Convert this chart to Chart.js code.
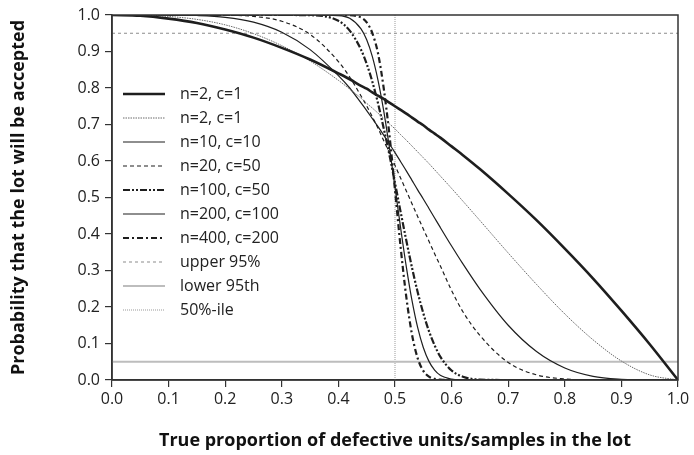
<!DOCTYPE html>
<html>
<head>
<meta charset="utf-8">
<script src="https://cdn.jsdelivr.net/npm/chart.js@4/dist/chart.umd.min.js"></script>
<style>
  body { margin: 0; background: #fff; }
  canvas { display: block; }
</style>
</head>
<body>
<canvas id="oc" width="694" height="455"></canvas>
<script>
// --- data (OC curves) ---

const pGrid = [0, .05, .1, .15, .2, .25, .3, .35, .4, .42, .44, .45, .46, .47, .48, .49, .5,
  .51, .52, .53, .54, .55, .56, .57, .58, .6, .62, .65, .7, .75, .8, .85, .9, .95, 1];

const accN2Thick = [1, .998, .99, .978, .96, .938, .91, .878, .84, .824, .806, .798, .788, .779, .77, .76, .75,
  .74, .73, .719, .708, .698, .686, .675, .664, .64, .616, .578, .51, .438, .36, .278, .19, .098, 0];

const accN2Dotted = [1, .9995, .996, .988, .973, .949, .916, .874, .821, .797, .772, .758, .745, .731, .717, .702, .688,
  .672, .657, .641, .625, .609, .593, .576, .559, .525, .49, .437, .348, .262, .181, .11, .052, .014, 0];

const accN10 = [1, 1, .9999, .9986, .9936, .9803, .9527, .9051, .8338, .8, .759, .738, .716, .694, .671, .647, .623,
  .598, .573, .547, .521, .496, .47, .444, .418, .367, .318, .249, .15, .078, .033, .01, .002, 0, 0];

const accN20 = [1, 1, 1, .9999, .9994, .9961, .9829, .9468, .8725, .83, .778, .751, .721, .69, .656, .623, .588,
  .553, .518, .483, .448, .414, .38, .346, .313, .245, .187, .122, .048, .014, .003, 0, 0, 0, 0];

const accN100 = [1, 1, 1, 1, 1, 1, 1, .9994, .984, .957, .905, .866, .817, .758, .69, .618, .54,
  .46, .382, .308, .241, .183, .134, .095, .064, .026, .009, .001, 0, 0, 0, 0, 0, 0, 0];

const accN200 = [1, 1, 1, 1, 1, 1, 1, 1, .9985, .991, .962, .932, .886, .821, .738, .638, .528,
  .416, .31, .218, .144, .089, .051, .027, .013, .0025, 0, 0, 0, 0, 0, 0, 0, 0, 0];

const accN400 = [1, 1, 1, 1, 1, 1, 1, 1, 1, .9995, .993, .98, .95, .895, .8, .674, .52,
  .363, .227, .125, .06, .025, .009, .003, .001, 0, 0, 0, 0, 0, 0, 0, 0, 0, 0];

const upperLevel = 0.95;
const lowerLevel = 0.05;
const medianP = 0.5;

const tickValues = [0, .1, .2, .3, .4, .5, .6, .7, .8, .9, 1];

// --- helpers ---

function toPoints(ys) {
    return pGrid.map((p, i) => ({ x: p, y: ys[i] }));
}

function curve(label, ys, width, dash, color) {
    return {
        label: label,
        data: toPoints(ys),
        borderColor: color || '#1e1e1e',
        borderWidth: width,
        borderDash: dash || [],
        pointRadius: 0,
        cubicInterpolationMode: 'monotone',
        fill: false
    };
}

function refLine(label, pts, width, dash, color) {
    return {
        label: label,
        data: pts,
        borderColor: color,
        borderWidth: width,
        borderDash: dash,
        pointRadius: 0,
        fill: false
    };
}

const datasets = [
    curve('n=2, c=1', accN2Thick, 2.6),
    curve('n=2, c=1', accN2Dotted, 1, [1.5, 1], '#6a6a6a'),
    curve('n=10, c=10', accN10, 1.2),
    curve('n=20, c=50', accN20, 1.2, [4, 3]),
    curve('n=100, c=50', accN100, 2.2, [7, 2, 2, 2, 2, 2]),
    curve('n=200, c=100', accN200, 1.2),
    curve('n=400, c=200', accN400, 2.2, [6, 3, 2, 3]),
    refLine('upper 95%', [{ x: 0, y: upperLevel }, { x: 1, y: upperLevel }], 1, [3, 3], '#8c8c8c'),
    refLine('lower 95th', [{ x: 0, y: lowerLevel }, { x: 1, y: lowerLevel }], 2, [], '#bdbdbd'),
    refLine('50%-ile', [{ x: medianP, y: 0 }, { x: medianP, y: 1 }], 1, [1, 1], '#9a9a9a')
];

// legend drawn inside the plot, line sample + text
const insideLegend = {
    id: 'insideLegend',
    afterDatasetsDraw(chart) {
        const ctx = chart.ctx;
        const x0 = 123, len = 42, textX = 180, y0 = 94, rowH = 24;
        ctx.save();
        ctx.font = '16px "Open Sans"';
        ctx.textBaseline = 'middle';
        chart.data.datasets.forEach((ds, i) => {
            const y = y0 + i * rowH;
            ctx.beginPath();
            ctx.strokeStyle = ds.borderColor;
            ctx.lineWidth = ds.borderWidth;
            ctx.setLineDash(ds.borderDash);
            ctx.moveTo(x0, y);
            ctx.lineTo(x0 + len, y);
            ctx.stroke();
            ctx.setLineDash([]);
            ctx.fillStyle = '#222';
            ctx.fillText(ds.label, textX, y);
        });
        ctx.restore();
    }
};

// box around the plotting area
const frameBox = {
    id: 'frameBox',
    afterDraw(chart) {
        const a = chart.chartArea;
        const ctx = chart.ctx;
        ctx.save();
        ctx.strokeStyle = '#333';
        ctx.lineWidth = 1.5;
        ctx.strokeRect(a.left, a.top, a.right - a.left, a.bottom - a.top);
        ctx.restore();
    }
};

new Chart(document.getElementById('oc'), {
    type: 'line',
    data: { datasets: datasets },
    options: {
        responsive: false,
        animation: false,
        layout: { padding: { top: 15, right: 16, left: 0, bottom: 0 } },
        plugins: { legend: { display: false }, tooltip: { enabled: false } },
        scales: {
            x: {
                type: 'linear',
                min: 0, max: 1,
                afterBuildTicks: s => { s.ticks = tickValues.map(v => ({ value: v })); },
                afterFit: s => { s.height = 75; },
                grid: { drawOnChartArea: false, drawTicks: true, tickLength: 7, color: '#333', lineWidth: 1.2 },
                border: { display: true, color: '#333', width: 1.5 },
                ticks: {
                    padding: 3,
                    color: '#222',
                    font: { family: '"Open Sans"', size: 16 },
                    callback: v => v.toFixed(1)
                },
                title: {
                    display: true,
                    text: 'True proportion of defective units/samples in the lot',
                    color: '#111',
                    font: { family: '"Open Sans"', size: 18, weight: 'bold' },
                    padding: { top: 4, bottom: 3 }
                }
            },
            y: {
                type: 'linear',
                min: 0, max: 1,
                afterBuildTicks: s => { s.ticks = tickValues.map(v => ({ value: v })); },
                afterFit: s => { s.width = 112; },
                grid: { drawOnChartArea: false, drawTicks: true, tickLength: 7, color: '#333', lineWidth: 1.2 },
                border: { display: true, color: '#333', width: 1.5 },
                ticks: {
                    padding: 5,
                    color: '#222',
                    font: { family: '"Open Sans"', size: 16 },
                    callback: v => v.toFixed(1)
                },
                title: {
                    display: true,
                    text: 'Probability that the lot will be accepted',
                    color: '#111',
                    font: { family: '"Open Sans"', size: 18, weight: 'bold' },
                    padding: { top: 8, bottom: 4 }
                }
            }
        }
    },
    plugins: [insideLegend, frameBox]
});
</script>
</body>
</html>
